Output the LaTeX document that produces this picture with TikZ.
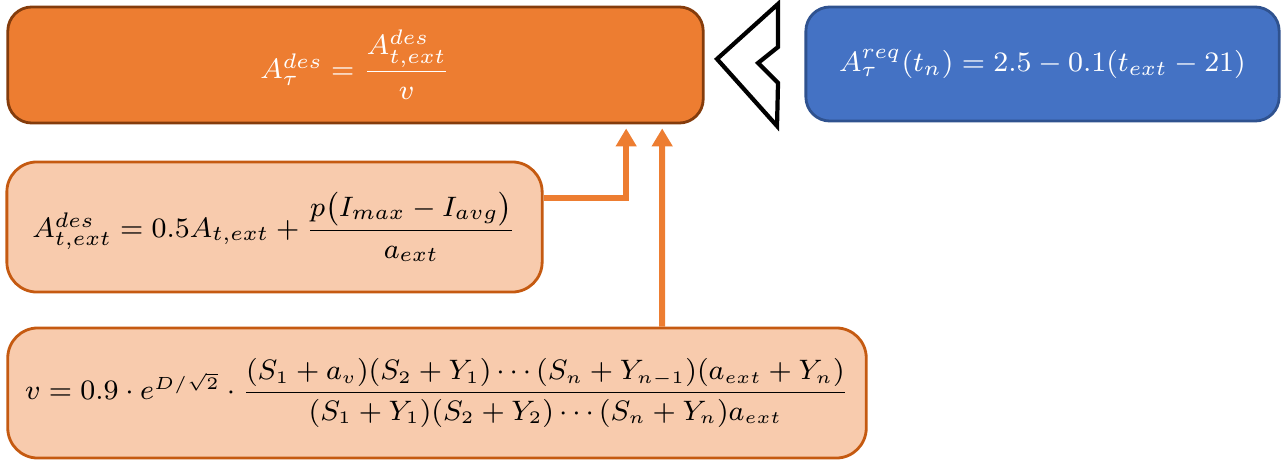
\documentclass[tikz,border=0pt]{standalone}
\usepackage{amsmath}
\usetikzlibrary{arrows.meta}
\definecolor{arancio}{HTML}{ED7D31}
\definecolor{bordoarancio}{HTML}{843C0C}
\definecolor{chiaro}{HTML}{F8CBAD}
\definecolor{bordochiaro}{HTML}{C55A11}
\definecolor{blu}{HTML}{4472C4}
\definecolor{bordoblu}{HTML}{2F528F}
\begin{document}
\begin{tikzpicture}[x=0.01cm, y=-0.01cm, line width=0.8pt,
             box/.style = {draw, rounded corners=0.24cm, inner sep=0pt, font=\fontsize{8.1}{10}\selectfont},
             top/.style = {box, fill=arancio, draw=bordoarancio, text=white},
             req/.style = {box, fill=blu, draw=bordoblu, text=white},
             sub/.style = {box, fill=chiaro, draw=bordochiaro, rounded corners=0.3cm},
             flow/.style = {draw=arancio, line width=1.7pt, -{Triangle[width=0.2cm, length=0.18cm]}}]
            \useasboundingbox (0,0) rectangle (1286,470);
            % Riquadri
            \node[top, minimum width=6.95cm, minimum height=1.16cm] (des) at (355.5,65)
                {$A_\tau^{des}=\dfrac{A_{t,ext}^{des}}{v}$};
            \node[req, minimum width=4.73cm, minimum height=1.14cm] (treq) at (1042.5,64)
                {$A_\tau^{req}(t_n)=2.5-0.1(t_{ext}-21)$};
            \node[sub, minimum width=5.35cm, minimum height=1.30cm] (ext) at (274.5,227)
                {$A_{t,ext}^{des}=0.5A_{t,ext}+\dfrac{p\big(I_{max}-I_{avg}\big)}{a_{ext}}$};
            \node[sub, minimum width=8.58cm, minimum height=1.30cm, font=\fontsize{7.8}{10}\selectfont] (vel) at (437,393)
                {$v=0.9\cdot e^{D/\sqrt{2}}\cdot\dfrac{(S_1+a_v)(S_2+Y_1)\cdots(S_n+Y_{n-1})(a_{ext}+Y_n)}{(S_1+Y_1)(S_2+Y_2)\cdots(S_n+Y_n)a_{ext}}$};

            % Freccia a punta
            \draw[fill=white, line width=1.2pt, line join=miter] (717,59) -- (778,4) -- (778,47)
                -- (758,63) -- (778,83) -- (777,126) -- cycle;

            % Frecce
            \draw[flow] ([yshift=0.29cm]ext.east) -| ([xshift=2.705cm, yshift=-0.04cm]des.south);
            \draw[flow] ([xshift=2.25cm]vel.north) -- ([xshift=3.065cm, yshift=-0.04cm]des.south);
        \end{tikzpicture}
\end{document}
